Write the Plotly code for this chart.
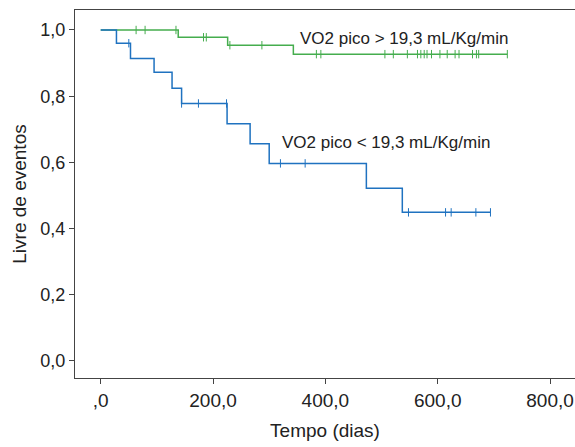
import plotly.graph_objects as go

# Group VO2 pico > 19,3 (green)
hi_times = [0, 138, 226, 343]
hi_surv = [1.0, 0.978, 0.954, 0.927]
hi_end = 724
hi_cens = [63, 79, 134, 183, 188, 230, 287, 384, 392, 506, 521, 546, 564, 570,
           576, 581, 589, 604, 617, 631, 638, 662, 669, 673, 724]

# Group VO2 pico < 19,3 (blue)
lo_times = [0, 28, 53, 95, 127, 144, 225, 266, 300, 473, 537]
lo_surv = [1.0, 0.96, 0.914, 0.872, 0.824, 0.778, 0.717, 0.656, 0.597, 0.522, 0.449]
lo_end = 694
lo_cens = [50, 144, 174, 224, 320, 364, 548, 614, 624, 668, 694]

x_ticks = [0, 200, 400, 600, 800]
x_labels = [",0", "200,0", "400,0", "600,0", "800,0"]
y_ticks = [0, 0.2, 0.4, 0.6, 0.8, 1.0]
y_labels = ["0,0", "0,2", "0,4", "0,6", "0,8", "1,0"]

GREEN = "#45ad4e"
BLUE = "#1f72c0"


def surv_at(times, surv, t):
    s = surv[0]
    for ti, si in zip(times, surv):
        if ti <= t:
            s = si
    return s


fig = go.Figure()
for times, surv, end, cens, col in [
    (hi_times, hi_surv, hi_end, hi_cens, GREEN),
    (lo_times, lo_surv, lo_end, lo_cens, BLUE),
]:
    xs = list(times) + [end]
    ys = list(surv) + [surv[-1]]
    fig.add_trace(go.Scatter(x=xs, y=ys, mode="lines", line=dict(color=col, width=1.5, shape="hv"),
                             showlegend=False, hoverinfo="skip"))
    fig.add_trace(go.Scatter(x=cens, y=[surv_at(times, surv, c) for c in cens], mode="markers",
                             marker=dict(symbol="line-ns", size=6, line=dict(color=col, width=1)),
                             showlegend=False, hoverinfo="skip"))

fig.add_annotation(x=351, y=0.974, text="VO2 pico > 19,3 mL/Kg/min", showarrow=False,
                   xanchor="left", yanchor="middle", font=dict(size=17, color="#222"))
fig.add_annotation(x=320, y=0.66, text="VO2 pico < 19,3 mL/Kg/min", showarrow=False,
                   xanchor="left", yanchor="middle", font=dict(size=17, color="#222"))

axis_common = dict(showgrid=False, zeroline=False, showline=True, linecolor="#444", linewidth=1.3,
                   mirror=True, ticks="outside", ticklen=5, tickcolor="#444", tickwidth=1)

fig.update_xaxes(range=[-45.8, 844.5], tickvals=x_ticks, ticktext=x_labels,
                 title=dict(text="Tempo (dias)", standoff=13, font=dict(size=19, color="#222")),
                 tickfont=dict(size=19, color="#222"), **axis_common)
fig.update_yaxes(range=[-0.0514, 1.0604], tickvals=y_ticks, ticktext=y_labels,
                 title=dict(text="Livre de eventos", standoff=8, font=dict(size=19, color="#222")),
                 tickfont=dict(size=18, color="#222"), **axis_common)

fig.update_layout(width=575, height=447, margin=dict(l=75, r=0, t=10, b=69),
                  plot_bgcolor="white", paper_bgcolor="white",
                  font=dict(family="Liberation Sans, Arial, Helvetica, sans-serif"))

fig.write_html("out.html")
